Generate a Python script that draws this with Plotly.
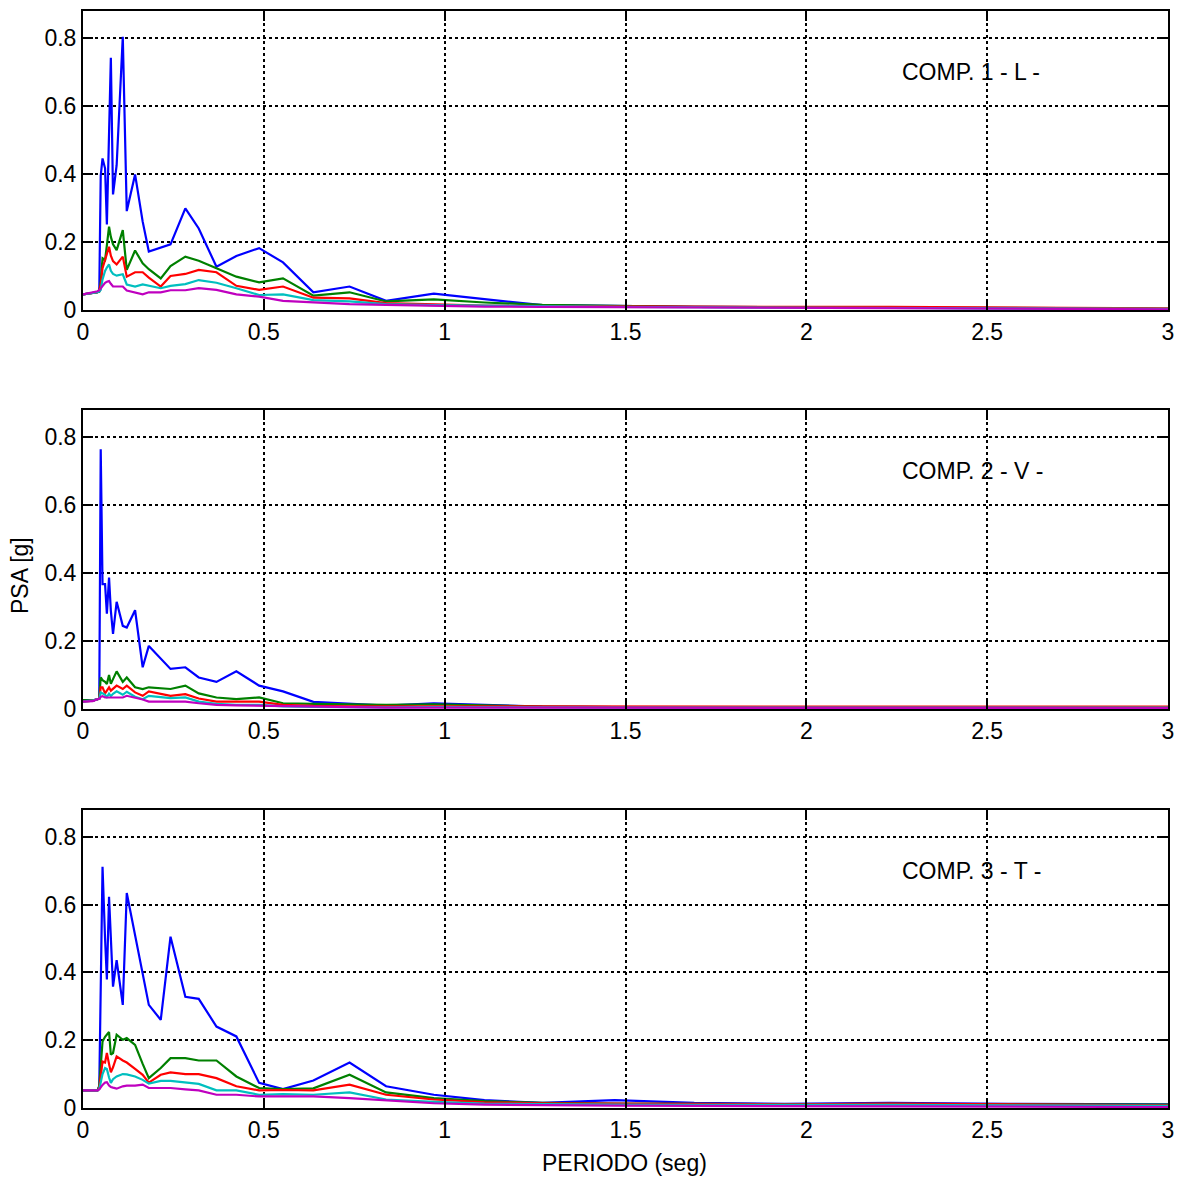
import plotly.graph_objects as go

# Periods (s)
periods = [0.0, 0.027, 0.04, 0.045, 0.049, 0.054, 0.061, 0.066, 0.072, 0.077, 0.083, 0.093,
           0.11, 0.121, 0.144, 0.165, 0.182, 0.215, 0.242, 0.283, 0.32, 0.369, 0.424, 0.487,
           0.553, 0.637, 0.737, 0.838, 0.97, 1.11, 1.27, 1.47, 1.69, 1.94, 2.23, 2.56, 2.94, 3.0]

# COMP. 1 - L -
l_blue = [.046, .049, .052, .055, .395, .446, .417, .252, .55, .742, .34, .426, .804, .291, .399, .26,
          .172, .183, .193, .299, .24, .127, .159, .182, .14, .052, .069, .027, .048, .032, .014, .012,
          .009, .008, .007, .005, .003, .002]
l_green = [.046, .049, .052, .054, .08, .152, .147, .19, .245, .215, .193, .176, .235, .118, .175, .137,
           .12, .093, .129, .157, .145, .123, .098, .081, .093, .042, .052, .025, .031, .022, .015, .012,
           .009, .008, .008, .006, .004, .003]
l_red = [.046, .049, .052, .058, .074, .123, .15, .165, .186, .16, .144, .134, .157, .098, .111, .111,
         .095, .069, .1, .106, .118, .111, .071, .059, .069, .036, .034, .02, .016, .013, .011, .01,
         .009, .009, .009, .008, .006, .005]
l_cyan = [.046, .049, .052, .055, .059, .09, .115, .125, .134, .115, .106, .101, .105, .075, .069, .075,
          .072, .064, .071, .076, .088, .08, .064, .044, .046, .029, .025, .017, .014, .012, .01, .009,
          .008, .007, .006, .005, .004, .003]
l_magenta = [.046, .051, .055, .058, .064, .072, .08, .083, .085, .077, .069, .069, .069, .057, .052, .046,
             .052, .052, .058, .058, .064, .059, .046, .039, .027, .022, .017, .015, .012, .01, .009, .008,
             .007, .006, .005, .004, .002, .002]

# COMP. 2 - V -
v_blue = [.026, .025, .029, .03, .765, .368, .368, .281, .387, .29, .221, .316, .245, .24, .291, .123,
          .186, .15, .118, .123, .093, .08, .111, .069, .052, .021, .015, .01, .017, .012, .007, .006,
          .005, .005, .005, .004, .004, .004]
v_green = [.026, .025, .029, .032, .093, .085, .08, .074, .1, .074, .088, .111, .08, .093, .064, .059,
           .064, .061, .059, .069, .046, .034, .029, .034, .017, .015, .013, .012, .014, .01, .007, .006,
           .006, .006, .006, .006, .005, .005]
v_red = [.022, .025, .029, .03, .064, .064, .046, .055, .064, .054, .06, .069, .059, .069, .049, .039,
         .052, .045, .039, .044, .031, .022, .022, .022, .012, .009, .008, .008, .009, .008, .007, .007,
         .007, .007, .007, .007, .007, .007]
v_cyan = [.022, .025, .029, .03, .049, .046, .042, .035, .045, .038, .045, .052, .042, .051, .036, .029,
          .039, .035, .032, .034, .022, .015, .012, .012, .008, .006, .005, .005, .006, .005, .004, .004,
          .004, .004, .004, .004, .004, .004]
v_magenta = [.022, .023, .029, .03, .036, .038, .034, .034, .034, .034, .034, .034, .034, .039, .034, .028,
             .022, .022, .022, .022, .017, .012, .011, .01, .008, .006, .005, .004, .004, .004, .003, .003,
             .003, .003, .003, .003, .003, .003]

# COMP. 3 - T -
t_blue = [.052, .052, .052, .064, .35, .711, .5, .379, .623, .51, .358, .436, .304, .634, .51, .40,
          .304, .26, .505, .328, .322, .24, .211, .074, .056, .081, .134, .064, .039, .023, .015, .023,
          .015, .012, .015, .012, .011, .011]
t_green = [.052, .052, .052, .064, .13, .196, .21, .215, .224, .157, .162, .216, .201, .206, .186, .13,
           .088, .118, .147, .147, .14, .14, .093, .059, .056, .058, .098, .046, .029, .02, .015, .013,
           .012, .011, .012, .011, .01, .01]
t_red = [.052, .052, .052, .059, .1, .137, .134, .162, .13, .105, .12, .152, .14, .134, .115, .098,
         .075, .098, .105, .1, .1, .088, .064, .052, .053, .052, .069, .039, .025, .017, .014, .013,
         .012, .011, .013, .011, .009, .008]
t_cyan = [.052, .052, .052, .056, .08, .1, .118, .115, .09, .074, .085, .093, .1, .099, .093, .083,
          .072, .08, .08, .076, .071, .052, .052, .039, .041, .039, .046, .025, .018, .013, .011, .01,
          .009, .008, .009, .008, .007, .006]
t_magenta = [.052, .052, .052, .055, .062, .068, .075, .076, .066, .062, .06, .057, .064, .066, .066, .069,
             .059, .059, .059, .055, .052, .039, .039, .034, .034, .034, .029, .022, .014, .01, .008, .007,
             .006, .005, .005, .004, .003, .003]

panels = [
    ("COMP. 1 - L -", [l_blue, l_green, l_red, l_cyan, l_magenta]),
    ("COMP. 2 - V -", [v_blue, v_green, v_red, v_cyan, v_magenta]),
    ("COMP. 3 - T -", [t_blue, t_green, t_red, t_cyan, t_magenta]),
]
colors = ["#0000FF", "#008000", "#FF0000", "#00BFBF", "#BF00BF"]

x_ticks = [0, 0.5, 1, 1.5, 2, 2.5, 3]
x_ticklabels = ["0", "0.5", "1", "1.5", "2", "2.5", "3"]
y_ticks = [0, 0.2, 0.4, 0.6, 0.8]
y_ticklabels = ["0", "0.2", "0.4", "0.6", "0.8"]

# page has an 8px body offset; figure coordinates = picture coordinates - 8
OFF = 8
W, H = 1177, 1172
ml, mr, mt, mb = 83 - OFF, 17, 1, 72
ph = H - mt - mb
pw = W - ml - mr
# picture-pixel bounds of each panel (top, bottom)
pix = [(9, 308.5), (409, 708.3), (809, 1108)]
domains = [[max(0.0, (H - mb - (b - OFF)) / ph), min(1.0, (H - mb - (t - OFF)) / ph)] for (t, b) in pix]

FONT = "Liberation Sans, Arial, Helvetica, sans-serif"
FS = 23
fig = go.Figure()
layout = dict(
    width=W, height=H, margin=dict(l=ml, r=mr, t=mt, b=mb),
    paper_bgcolor="white", plot_bgcolor="white", showlegend=False,
    font=dict(family=FONT, size=FS, color="black"),
)
annotations = []
for i, (label, series) in enumerate(panels):
    k = "" if i == 0 else str(i + 1)
    for s, c in zip(series, colors):
        fig.add_trace(go.Scatter(x=periods, y=s, mode="lines", line=dict(color=c, width=2.2),
                                 xaxis="x" + k, yaxis="y" + k, hoverinfo="skip"))
    common = dict(showline=True, linecolor="black", linewidth=2, mirror="ticks",
                  ticks="inside", ticklen=10, tickwidth=2, tickcolor="black",
                  showgrid=True, gridcolor="black", griddash="dot", gridwidth=1.5,
                  zeroline=False, tickfont=dict(size=FS, family=FONT, color="black"))
    layout["xaxis" + k] = dict(common, range=[0, 3], tickvals=x_ticks, ticktext=x_ticklabels,
                               anchor="y" + k, domain=[0, 1])
    layout["yaxis" + k] = dict(common, range=[0, 0.88], tickvals=y_ticks, ticktext=y_ticklabels,
                               anchor="x" + k, domain=domains[i])
    annotations.append(dict(text=label, x=2.26, y=0.70, xref="x" + k, yref="y" + k,
                            xanchor="left", yanchor="middle", showarrow=False,
                            font=dict(size=FS, family=FONT, color="black")))

annotations.append(dict(text="PSA [g]", textangle=-90, xref="paper", yref="paper",
                        x=(20 - OFF - ml) / pw, y=(H - mb - (575 - OFF)) / ph,
                        xanchor="center", yanchor="middle", showarrow=False,
                        font=dict(size=FS, family=FONT, color="black")))
annotations.append(dict(text="PERIODO (seg)", xref="paper", yref="paper",
                        x=(624 - OFF - ml) / pw, y=(H - mb - (1163 - OFF)) / ph,
                        xanchor="center", yanchor="middle", showarrow=False,
                        font=dict(size=FS, family=FONT, color="black")))
layout["annotations"] = annotations
fig.update_layout(**layout)
fig.write_html("out.html")
